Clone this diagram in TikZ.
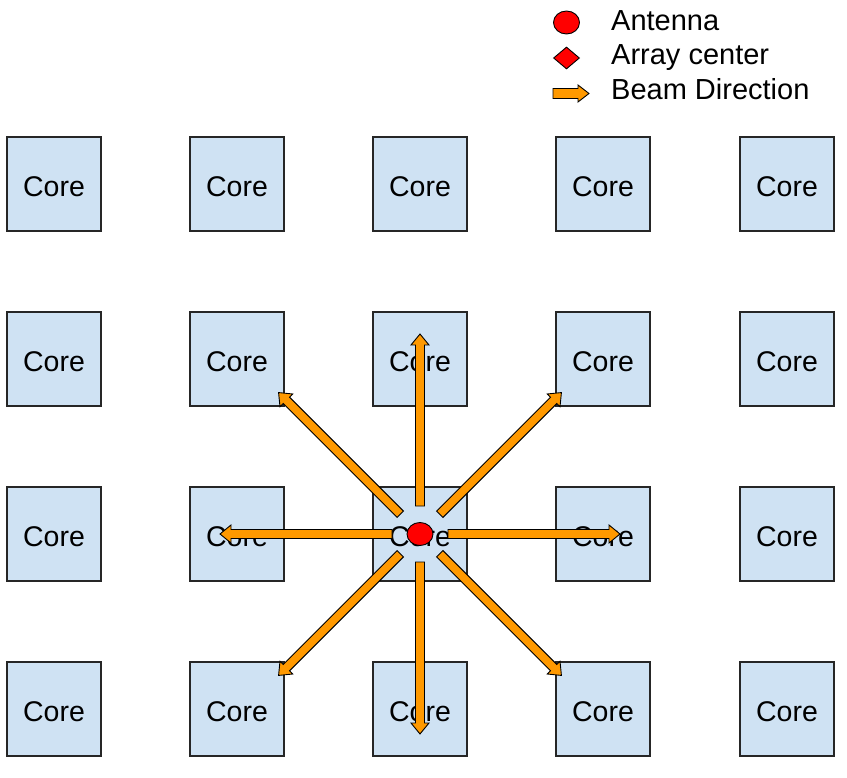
\documentclass[tikz,border=0pt]{standalone}
\usepackage{fontspec}
\setmainfont{Liberation Sans}
\usetikzlibrary{shapes.geometric}
\definecolor{corefill}{HTML}{CFE2F3}
\definecolor{beamorange}{HTML}{FF9900}
\definecolor{antred}{HTML}{FF0000}
\tikzset{
  corebox/.style={draw=black!85, line width=1.2pt, fill=corefill, minimum width=94pt, minimum height=94pt, inner sep=0pt, text height=25pt, text depth=0pt, font=\fontsize{28.5}{33}\selectfont},
  beamstyle/.style={draw=black, line width=0.9pt, fill=beamorange, line join=miter},
  antstyle/.style={ellipse, draw=black, line width=0.9pt, fill=antred, minimum width=26pt, minimum height=23pt, inner sep=0pt},
  centerstyle/.style={diamond, draw=black, line width=0.9pt, fill=antred, minimum width=26pt, minimum height=22pt, inner sep=0pt},
  legendtext/.style={anchor=base west, inner sep=0pt, font=\fontsize{29}{34}\selectfont},
  beam/.pic={\draw[beamstyle] (28,-4.5) -- (189,-4.5) -- (189,-9) -- (200,0) -- (189,9) -- (189,4.5) -- (28,4.5) -- cycle;}
}
\begin{document}
\begin{tikzpicture}[x=1pt, y=-1pt]
\useasboundingbox (0,0) rectangle (847,778);
% grid of cores
\foreach \cx [count=\i] in {54,237,420,603,787} {
  \foreach \cy [count=\j] in {184,359,534,709} {
    \node[corebox] (core-\i-\j) at (\cx,\cy) {Core};
  }
}
% beam directions
\coordinate (ant) at (core-3-3.center);
\foreach \ang in {0,45,90,135,180,225,270,315} {
  \pic[rotate=\ang] at (ant) {beam};
}
\node[antstyle] (antenna) at (ant) {};
% legend
\node[antstyle] (leg-ant) at (566.5,22.5) {};
\node[centerstyle] (leg-center) at (566.5,58) {};
\coordinate (leg-beam) at (553,93.5);
\draw[beamstyle] ([yshift=-5pt]leg-beam) -- ++(25,0) -- ++(0,3.5) -- ++(11,-8.5) -- ++(-11,-8.5) -- ++(0,3.5) -- ++(-25,0) -- cycle;
\node[legendtext] (t-ant) at (611,31) {Antenna};
\node[legendtext] (t-center) at (611,65) {Array center};
\node[legendtext] (t-beam) at (611,100) {Beam Direction};
\end{tikzpicture}
\end{document}
